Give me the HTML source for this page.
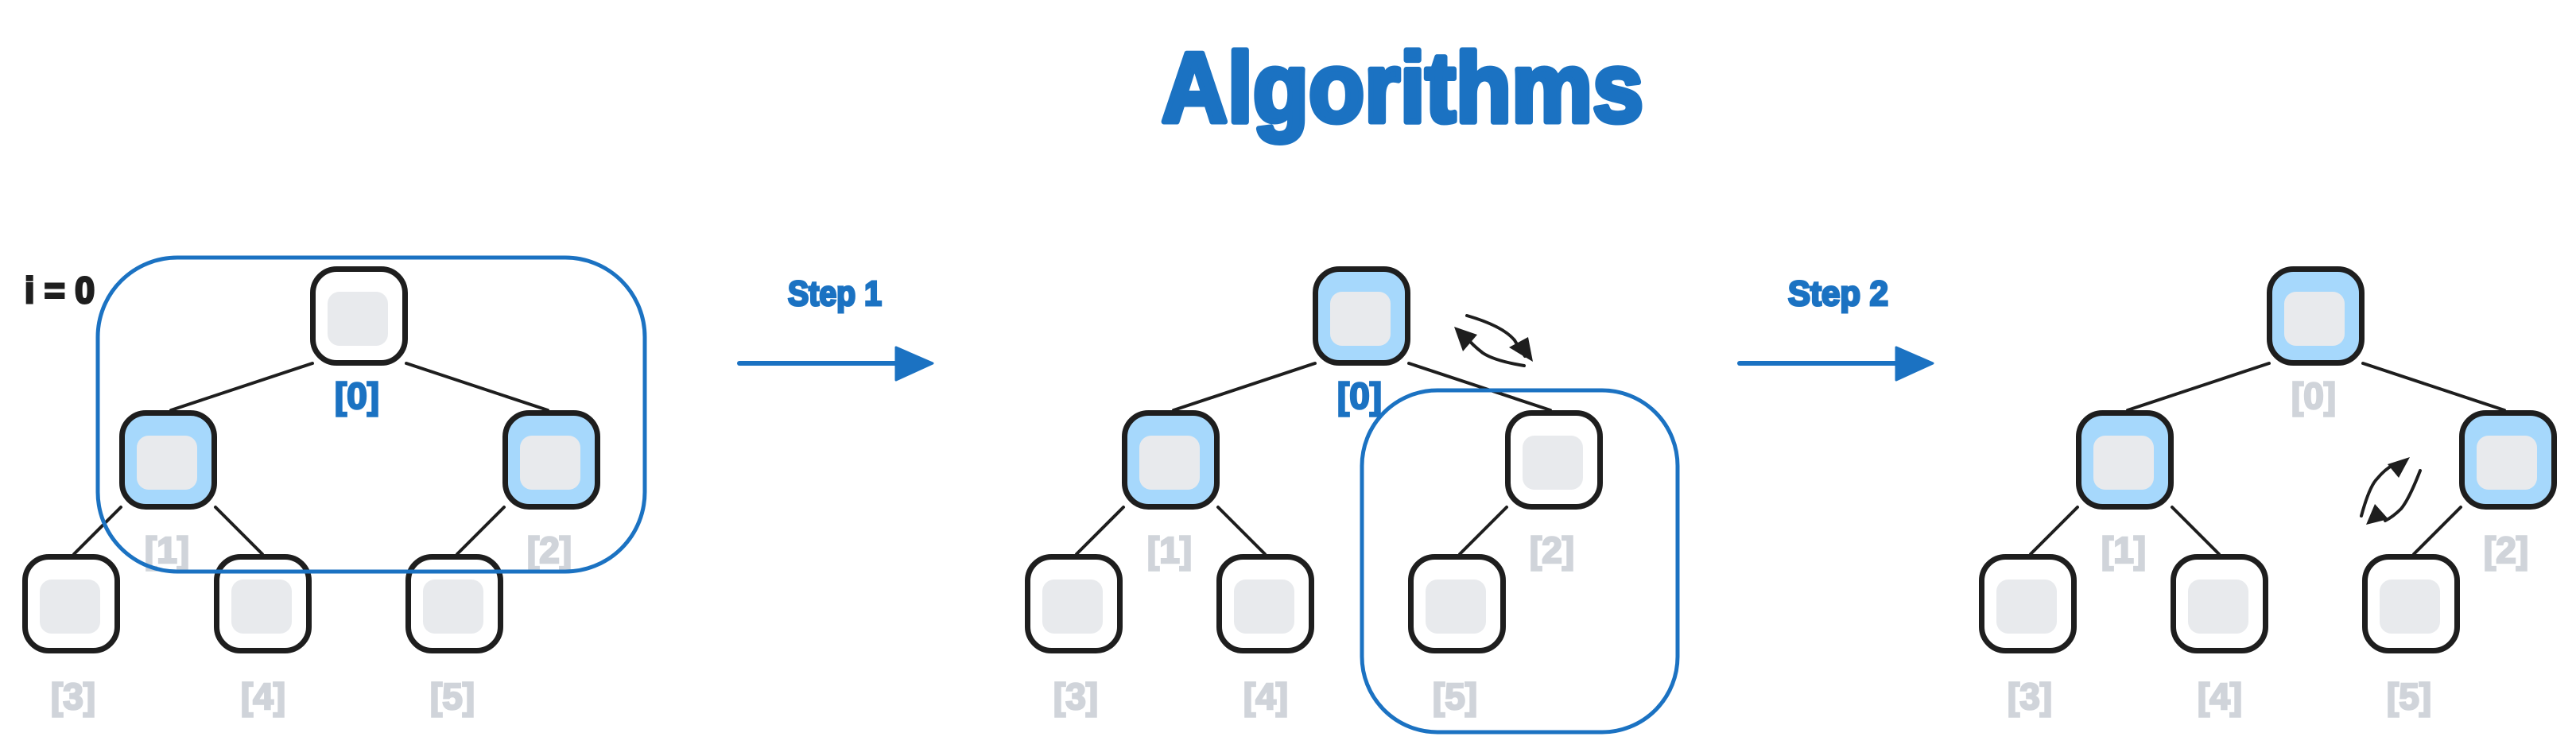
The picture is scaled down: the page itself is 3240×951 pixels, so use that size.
<!DOCTYPE html>
<html><head><meta charset="utf-8"><style>
html,body{margin:0;padding:0;background:#fff;}
svg{display:block;}
text{font-family:"Liberation Sans",sans-serif;font-weight:bold;}
</style></head><body>
<svg width="3240" height="951" viewBox="0 0 3240 951" xmlns="http://www.w3.org/2000/svg">
<defs>
<g id="edges" stroke="#1e1e1e" stroke-width="4" stroke-linecap="round">
  <line x1="393" y1="457" x2="215" y2="516"/>
  <line x1="511" y1="457" x2="689" y2="516"/>
  <line x1="152" y1="638" x2="93" y2="697"/>
  <line x1="271" y1="638" x2="330" y2="697"/>
  <line x1="634" y1="638" x2="575" y2="697"/>
</g>
<g id="lbl" font-size="46" fill="#d0d4da" stroke="#d0d4da" stroke-width="2.5" text-anchor="middle">
  <text x="210" y="708">[1]</text>
  <text x="691" y="708">[2]</text>
  <text x="92" y="892">[3]</text>
  <text x="331" y="892">[4]</text>
  <text x="569" y="892">[5]</text>
</g>
<g id="w"><rect x="3.5" y="3.5" width="116" height="118" rx="30" fill="#fff" stroke="#1e1e1e" stroke-width="7"/><rect x="22" y="32" width="76" height="68" rx="15" fill="#e8eaed"/></g>
<g id="b"><rect x="3.5" y="3.5" width="116" height="118" rx="30" fill="#a6d8fc" stroke="#1e1e1e" stroke-width="7"/><rect x="22" y="32" width="76" height="68" rx="15" fill="#e8eaed"/></g>
</defs>

<text x="1461" y="153" font-size="124" fill="#1b72c2" stroke="#1b72c2" stroke-width="7" stroke-linejoin="round" textLength="606" lengthAdjust="spacingAndGlyphs">Algorithms</text>

<!-- Panel 1 -->
<use href="#edges"/>
<use href="#w" x="390" y="335"/>
<use href="#b" x="150" y="516"/>
<use href="#b" x="632" y="516"/>
<use href="#w" x="28" y="697"/>
<use href="#w" x="269" y="697"/>
<use href="#w" x="510" y="697"/>
<use href="#lbl"/>
<text x="449" y="514" font-size="46" fill="#1b72c2" stroke="#1b72c2" stroke-width="2.5" text-anchor="middle">[0]</text>
<rect x="123" y="324" width="688" height="395" rx="100" fill="none" stroke="#1b72c2" stroke-width="5"/>
<text x="31" y="381" font-size="46" fill="#1e1e1e" stroke="#1e1e1e" stroke-width="3" textLength="88" lengthAdjust="spacingAndGlyphs">i = 0</text>

<!-- Step 1 -->
<text x="1050" y="384" font-size="44" fill="#1b72c2" stroke="#1b72c2" stroke-width="3" text-anchor="middle" textLength="118" lengthAdjust="spacingAndGlyphs">Step 1</text>
<line x1="930" y1="457" x2="1135" y2="457" stroke="#1b72c2" stroke-width="6" stroke-linecap="round"/>
<path d="M1127 437 L1173 457 L1127 478 Z" fill="#1b72c2" stroke="#1b72c2" stroke-width="3" stroke-linejoin="round"/>

<!-- Panel 2 -->
<g transform="translate(1261,0)">
<use href="#edges"/>
<use href="#b" x="390" y="335"/>
<use href="#b" x="150" y="516"/>
<use href="#w" x="632" y="516"/>
<use href="#w" x="28" y="697"/>
<use href="#w" x="269" y="697"/>
<use href="#w" x="510" y="697"/>
<use href="#lbl"/>
<text x="449" y="514" font-size="46" fill="#1b72c2" stroke="#1b72c2" stroke-width="2.5" text-anchor="middle">[0]</text>
</g>
<rect x="1713" y="491" width="397" height="430" rx="95" fill="none" stroke="#1b72c2" stroke-width="5"/>
<g stroke="#1e1e1e" stroke-width="4" fill="none" stroke-linecap="round">
  <path d="M1845 397 Q1890 410 1905 428 Q1912 440 1918 448"/>
  <path d="M1917 460 Q1880 454 1865 444 Q1852 434 1844 424"/>
</g>
<path d="M1928 455 L1898 437 L1922 424 Z" fill="#1e1e1e"/>
<path d="M1829 411 L1858 421 L1840 442 Z" fill="#1e1e1e"/>

<!-- Step 2 -->
<text x="2312" y="384" font-size="44" fill="#1b72c2" stroke="#1b72c2" stroke-width="3" text-anchor="middle" textLength="126" lengthAdjust="spacingAndGlyphs">Step 2</text>
<line x1="2188" y1="457" x2="2393" y2="457" stroke="#1b72c2" stroke-width="6" stroke-linecap="round"/>
<path d="M2385 437 L2431 457 L2385 478 Z" fill="#1b72c2" stroke="#1b72c2" stroke-width="3" stroke-linejoin="round"/>

<!-- Panel 3 -->
<g transform="translate(2461,0)">
<use href="#edges"/>
<use href="#b" x="390" y="335"/>
<use href="#b" x="150" y="516"/>
<use href="#b" x="632" y="516"/>
<use href="#w" x="28" y="697"/>
<use href="#w" x="269" y="697"/>
<use href="#w" x="510" y="697"/>
<use href="#lbl"/>
<text x="449" y="514" font-size="46" fill="#d0d4da" stroke="#d0d4da" stroke-width="2.5" text-anchor="middle">[0]</text>
</g>
<g stroke="#1e1e1e" stroke-width="4" fill="none" stroke-linecap="round">
  <path d="M2970 649 Q2980 612 2990 602 Q3000 590 3010 585"/>
  <path d="M3044 592 Q3030 628 3020 640 Q3010 650 3000 655"/>
</g>
<path d="M3031 575 L3017 601 L3003 584 Z" fill="#1e1e1e"/>
<path d="M2976 660 L2987 634 L3004 653 Z" fill="#1e1e1e"/>
</svg>
</body></html>
